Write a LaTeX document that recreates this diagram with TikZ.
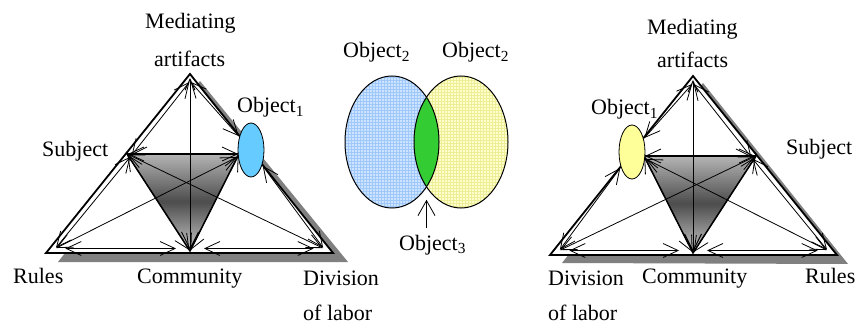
\documentclass[tikz,border=0pt]{standalone}
\usepackage{fontspec}
\setmainfont{Liberation Serif}
\usetikzlibrary{arrows.meta,calc,shapes.geometric,patterns}
\definecolor{shadowgray}{RGB}{128,128,128}
\definecolor{objblue}{RGB}{102,204,255}
\definecolor{objyellow}{RGB}{255,255,153}
\definecolor{vennblue}{RGB}{205,228,255}
\definecolor{venngridblue}{RGB}{160,200,250}
\definecolor{vennyellow}{RGB}{255,255,205}
\definecolor{venngridyellow}{RGB}{238,238,150}
\definecolor{lensgreen}{RGB}{51,204,51}
\tikzset{
  lab/.style={inner sep=0pt, anchor=base west, font=\fontsize{22}{26}\selectfont},
  outertri/.style={draw=black, line width=1.8pt, fill=white, line join=miter},
  innertri/.style={draw=black, line width=1.5pt, line join=miter},
  twoway/.style={line width=0.8pt, arrows={Straight Barb[length=15pt,width=14pt]-Straight Barb[length=15pt,width=14pt]}, shorten <=1pt, shorten >=1pt},
  vertarrow/.style={line width=1pt, arrows={Straight Barb[length=11pt,width=10pt]-Straight Barb[length=17pt,width=17pt]}, shorten <=4pt, shorten >=1pt},
  objell/.style={ellipse, draw=black, line width=0.8pt, minimum width=26pt, minimum height=54pt, inner sep=0pt},
  shadowtri/.style={fill=shadowgray, draw=none},
  vennline/.style={draw=black, line width=1pt},
}
\newcommand\actsys[2]{%
  \coordinate (#1M) at (190,74);
  \coordinate (#1R) at (46,253);
  \coordinate (#1D) at (333,253);
  \coordinate (#1S) at (127,154);
  \coordinate (#1I) at (190,184);
  \coordinate (#1T) at (239,154);
  \coordinate (#1C) at (190,251);
  \coordinate (#1Mi) at ($(#1I)!0.935!(#1M)$);
  \coordinate (#1Ri) at ($(#1I)!0.935!(#1R)$);
  \coordinate (#1Di) at ($(#1I)!0.935!(#1D)$);
  \coordinate (#1Si) at ($(#1I)!0.935!(#1S)$);
  \coordinate (#1Ci) at (190,248.5);
  \draw[outertri] (#1M) -- (#1R) -- (#1D) -- cycle;
  \begin{scope}
    \clip (#1S) -- (#1T) -- (#1C) -- cycle;
    \foreach \k in {0,...,49} {
      \pgfmathsetmacro\gfrac{\k/49}
      \pgfmathsetmacro\glev{\gfrac<0.5 ? 28+84*\gfrac : 70-96*(\gfrac-0.5)}
      \fill[black!\glev] (100,{152+\k*2}) rectangle (260,{152+\k*2+2.4});
    }
  \end{scope}
  \draw[innertri] (#1S) -- (#1T) -- (#1C) -- cycle;
  \node[objell, fill=#2] (#1O) at (251,150) {};
  \draw[twoway] (#1Mi) -- (#1Si);
  \draw[twoway] (#1Si) -- (#1Ri);
  \draw[twoway, shorten <=10pt, shorten >=14pt] (#1Ri) -- (#1Ci);
  \draw[twoway, shorten <=10pt, shorten >=14pt] (#1Di) -- (#1Ci);
  \draw[twoway] (#1Mi) -- (#1O);
  \draw[twoway] (#1O) -- (#1Di);
  \draw[twoway] (#1S) -- (#1T);
  \draw[twoway] (#1S) -- (#1Di);
  \draw[twoway] (#1Ri) -- (#1O);
  \draw[twoway] (#1S) -- (#1C);
  \draw[twoway] (#1T) -- (#1C);
  \draw[vertarrow] (#1M) -- (#1C);
}
\begin{document}
\begin{tikzpicture}[x=1pt,y=-1pt]
\useasboundingbox (0,0) rectangle (857,326);
\fill[white] (0,0) rectangle (857,326);
% shadows
\fill[shadowtri] (200,81) -- (58,262) -- (348,262) -- cycle;
\fill[shadowtri] (703,83) -- (562,263) -- (848,264) -- cycle;
% activity systems
\begin{scope}
  \actsys{L}{objblue}
\end{scope}
\begin{scope}[shift={(883,2)}, xscale=-1]
  \actsys{R}{objyellow}
\end{scope}
% Venn diagram
\fill[vennblue] (392,142) ellipse [x radius=47pt, y radius=66pt];
\fill[pattern=grid, pattern color=venngridblue] (392,142) ellipse [x radius=47pt, y radius=66pt];
\fill[vennyellow] (461,142) ellipse [x radius=47pt, y radius=66pt];
\fill[pattern=grid, pattern color=venngridyellow] (461,142) ellipse [x radius=47pt, y radius=66pt];
\begin{scope}
  \clip (392,142) ellipse [x radius=47pt, y radius=66pt];
  \fill[lensgreen] (461,142) ellipse [x radius=47pt, y radius=66pt];
\end{scope}
\draw[vennline] (392,142) ellipse [x radius=47pt, y radius=66pt];
\draw[vennline] (461,142) ellipse [x radius=47pt, y radius=66pt];
\coordinate (lensB) at (426.5,186.8);
\coordinate (a3) at (426.5,228);
\draw[line width=0.8pt, arrows={-Straight Barb[length=15pt,width=17pt]}, shorten >=13pt] (a3) -- (lensB);
% labels
\node[lab] (Lmed) at (145,29) {Mediating};
\node[lab] (Lart) at (154,67) {artifacts};
\node[lab] (Lobj) at (237,113) {Object\textsubscript{1}};
\node[lab] (Lsub) at (42,157) {Subject};
\node[lab] (Lrul) at (13,283) {Rules};
\node[lab] (Lcom) at (137,283) {Community};
\node[lab] (Ldiv) at (303,285) {Division};
\node[lab] (Llab) at (303,320) {of labor};
\node[lab] (o2a) at (343,58) {Object\textsubscript{2}};
\node[lab] (o2b) at (442,58) {Object\textsubscript{2}};
\node[lab] (o3) at (399,250) {Object\textsubscript{3}};
\node[lab] (Rmed) at (647,35) {Mediating};
\node[lab] (Rart) at (657,68) {artifacts};
\node[lab] (Robj) at (591,115) {Object\textsubscript{1}};
\node[lab] (Rsub) at (786,155) {Subject};
\node[lab] (Rcom) at (642,283) {Community};
\node[lab] (Rrul) at (805,283) {Rules};
\node[lab] (Rdiv) at (548,285) {Division};
\node[lab] (Rlab) at (548,320) {of labor};
\end{tikzpicture}
\end{document}
